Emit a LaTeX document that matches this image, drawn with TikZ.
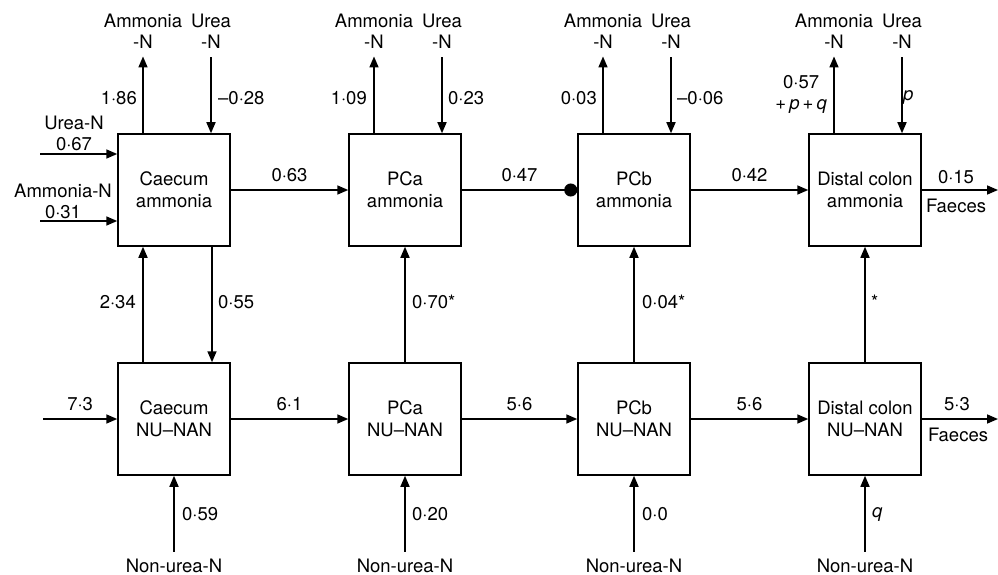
\documentclass[tikz,border=0pt]{standalone}
\usepackage{fontspec}
\setmainfont{TeX Gyre Heros}
\usetikzlibrary{arrows.meta}
\begin{document}
\begin{tikzpicture}[x=1pt,y=-1pt,
  box/.style={draw, line width=1.5pt, minimum width=112pt, minimum height=112pt,
    align=center, inner sep=0pt, font=\fontsize{18.5}{22}\selectfont},
  lbl/.style={font=\fontsize{18.5}{21}\selectfont, inner sep=0pt, align=center},
  arr/.style={line width=1.6pt, -{Triangle[length=11pt,width=9pt]}},
  dotarr/.style={line width=1.6pt, -{Circle[length=13pt]}},
  ln/.style={line width=1.6pt}]
\useasboundingbox (0,0) rectangle (998,575);

% boxes
\node[box] (ca) at (174,190) {Caecum\\ammonia};
\node[box] (pa) at (405,190) {PCa\\ammonia};
\node[box] (pb) at (634,190) {PCb\\ammonia};
\node[box] (da) at (865,190) {Distal colon\\ammonia};
\node[box] (cn) at (174,419) {Caecum\\NU--NAN};
\node[box] (pn) at (405,419) {PCa\\NU--NAN};
\node[box] (bn) at (634,419) {PCb\\NU--NAN};
\node[box] (dn) at (865,419) {Distal colon\\NU--NAN};

% top outputs / inputs
\foreach \b/\x in {ca/174,pa/405,pb/634,da/865}{
  \node[lbl] (\b Al) at (\x-31,31) {Ammonia\\-N};
  \node[lbl] (\b Ul) at (\x+37,31) {Urea\\-N};
  \draw[arr, shorten >=8pt] ([xshift=-31pt]\b.north) -- (\b Al.south);
  \draw[arr, shorten <=9pt] (\b Ul.south) -- ([xshift=37pt]\b.north);
}
\node[lbl, anchor=east] (v1) at (137,98) {1·86};
\node[lbl, anchor=west] (v2) at (218,98) {–0·28};
\node[lbl, anchor=east] (v3) at (367,98) {1·09};
\node[lbl, anchor=west] (v4) at (448,98) {0·23};
\node[lbl, anchor=east] (v5) at (597,98) {0·03};
\node[lbl, anchor=west] (v6) at (677,98) {–0·06};
\node[lbl, anchor=east] (v7) at (827,94) {0·57\\+\,\textit{p}\,+\,\textit{q}};
\node[lbl, anchor=west] (v8) at (903,97) {\textit{p}};

% left inputs
\node[lbl] (uinl) at (74,133) {Urea-N\\0·67};
\node[lbl] (ainl) at (63,201) {Ammonia-N\\0·31};
\coordinate (uin) at (40,154);
\coordinate (ain) at (40,221);
\draw[arr] (uin) -- (ca.west |- uin);
\draw[arr] (ain) -- (ca.west |- ain);

% top row horizontal
\draw[arr] (ca) -- node[lbl, above=7pt] (h1) {0·63} (pa);
\draw[dotarr] (pa) -- node[lbl, above=7pt] (h2) {0·47} (pb);
\draw[arr] (pb) -- node[lbl, above=7pt] (h3) {0·42} (da);
\coordinate (aout) at (998,190);
\draw[arr] (da) -- (aout);
\node[lbl] (h4) at (956,177) {0·15};
\node[lbl] (h4f) at (956,206) {Faeces};

% vertical between rows
\draw[arr] ([xshift=-31pt]cn.north) -- ([xshift=-31pt]ca.south);
\draw[arr] ([xshift=38pt]ca.south) -- ([xshift=38pt]cn.north);
\draw[arr] (pn) -- (pa);
\draw[arr] (bn) -- (pb);
\draw[arr] (dn) -- (da);
\node[lbl, anchor=east] (m1) at (136,302) {2·34};
\node[lbl, anchor=west] (m2) at (218,302) {0·55};
\node[lbl, anchor=west] (m3) at (412,302) {0·70*};
\node[lbl, anchor=west] (m4) at (642,302) {0·04*};
\node[lbl, anchor=west] (m5) at (871,302) {*};

% bottom row horizontal
\coordinate (nin) at (43,419);
\draw[arr] (nin) -- node[lbl, above=7pt] (b0) {7·3} (cn);
\draw[arr] (cn) -- node[lbl, above=7pt] (b1) {6·1} (pn);
\draw[arr] (pn) -- node[lbl, above=7pt] (b2) {5·6} (bn);
\draw[arr] (bn) -- node[lbl, above=7pt] (b3) {5·6} (dn);
\coordinate (nout) at (998,419);
\draw[arr] (dn) -- (nout);
\node[lbl] (b4) at (957,404) {5·3};
\node[lbl] (b4f) at (958,435) {Faeces};

% bottom inputs
\foreach \b/\x in {cn/174,pn/405,bn/634,dn/865}{
  \node[lbl] (\b Nl) at (\x,566) {Non-urea-N};
  \draw[arr, shorten <=7pt] (\b Nl.north) -- (\b.south);
}
\node[lbl, anchor=west] (n1) at (182,514) {0·59};
\node[lbl, anchor=west] (n2) at (412,514) {0·20};
\node[lbl, anchor=west] (n3) at (642,514) {0·0};
\node[lbl, anchor=west] (n4) at (872,514) {\textit{q}};
\end{tikzpicture}
\end{document}
